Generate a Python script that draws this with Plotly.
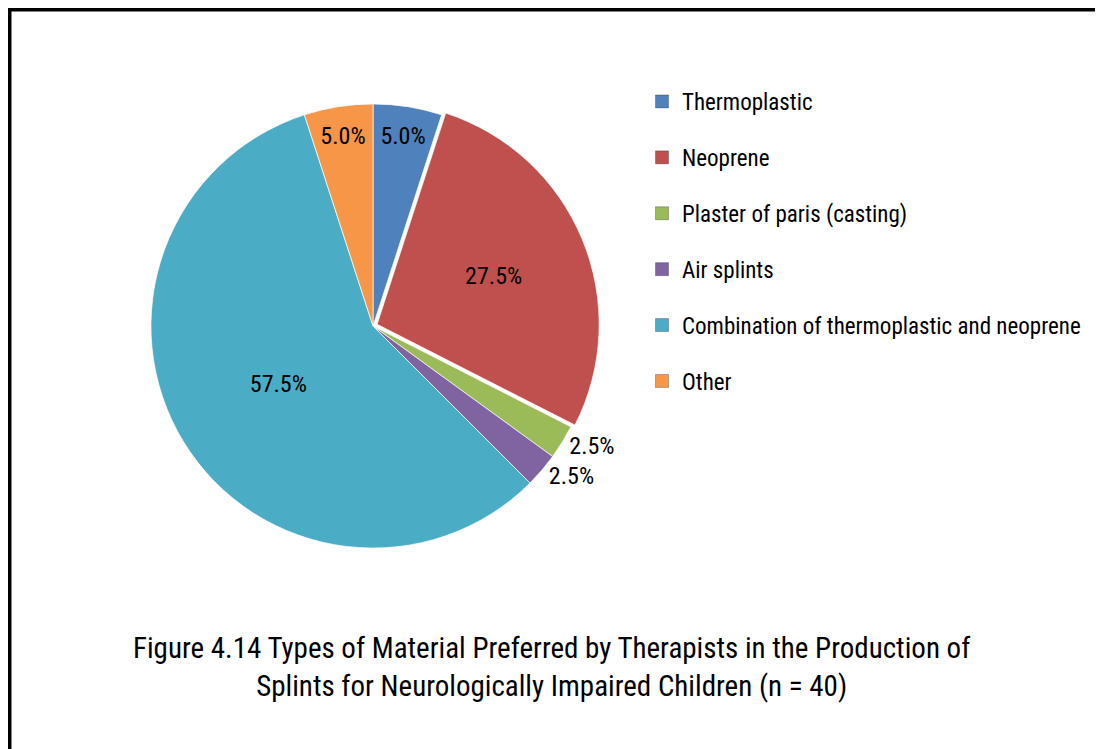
import plotly.graph_objects as go

labels = ["Thermoplastic", "Neoprene", "Plaster of paris (casting)", "Air splints",
          "Combination of thermoplastic and neoprene", "Other"]
values = [5.0, 27.5, 2.5, 2.5, 57.5, 5.0]
colors = ["#4F81BD", "#C0504D", "#9BBB59", "#8064A2", "#4BACC6", "#F79646"]
pulls = [0, 0.02, 0, 0, 0, 0]
text_positions = ["inside", "inside", "outside", "outside", "inside", "inside"]
caption = ("Figure 4.14 Types of Material Preferred by Therapists in the Production of<br>"
           "Splints for Neurologically Impaired Children (n = 40)")

FONT = "Liberation Sans Narrow, Arial Narrow, Roboto Condensed, Liberation Sans, Arial, sans-serif"
W, H = 1087, 741

fig = go.Figure()
fig.add_trace(go.Pie(
    labels=labels, values=values, sort=False, direction="clockwise", rotation=0,
    marker=dict(colors=colors, line=dict(color="rgba(255,255,255,0.7)", width=1)),
    pull=pulls, textposition=text_positions, texttemplate="%{percent:.1%}",
    insidetextorientation="horizontal",
    textfont=dict(family=FONT, size=24, color="black"),
    showlegend=False,
    domain=dict(x=[138.5 / W, 591.5 / W], y=[1 - 544.5 / H, 1 - 91.5 / H]),
))

for i, (lab, col) in enumerate(zip(labels, colors)):
    fig.add_trace(go.Scatter(
        x=[None], y=[None], mode="markers", name=lab, legendgroup=f"g{i}",
        marker=dict(symbol="square", size=13, color=col,
                    line=dict(color="rgba(0,0,0,0.25)", width=1)),
    ))

fig.update_layout(
    width=W, height=H, margin=dict(l=0, r=0, t=0, b=0),
    paper_bgcolor="white", plot_bgcolor="white",
    xaxis=dict(visible=False), yaxis=dict(visible=False),
    legend=dict(x=634 / W, y=1 - 72 / H, xanchor="left", yanchor="top",
                traceorder="grouped", tracegroupgap=23, itemwidth=30,
                font=dict(family=FONT, size=23, color="black"),
                bgcolor="rgba(0,0,0,0)"),
    annotations=[dict(text=caption, x=543 / W, y=1 - 659 / H, xref="paper", yref="paper",
                      showarrow=False, xanchor="center", yanchor="middle",
                      font=dict(family=FONT, size=29, color="black"), align="center")],
    shapes=[
        dict(type="line", xref="paper", yref="paper", x0=0, x1=1.05, y0=1 - 0.5 / H, y1=1 - 0.5 / H,
             line=dict(color="black", width=6)),
        dict(type="line", xref="paper", yref="paper", x0=0.5 / W, x1=0.5 / W, y0=-0.05, y1=1,
             line=dict(color="black", width=6)),
    ],
)

fig.write_html("out.html", config={"displayModeBar": False})
